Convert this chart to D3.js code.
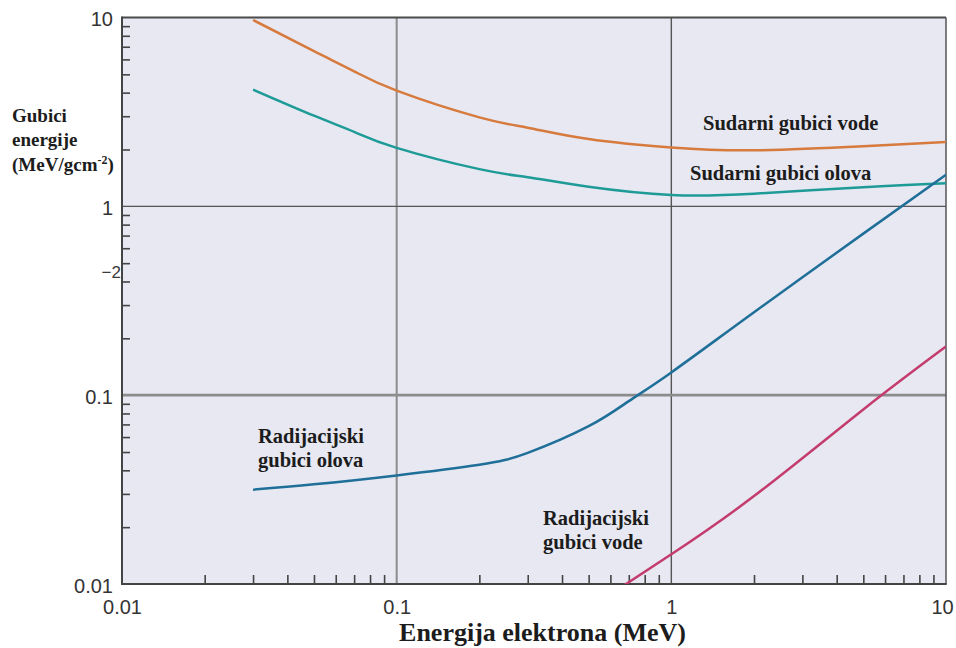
<!DOCTYPE html>
<html><head><meta charset="utf-8">
<script src="https://cdn.jsdelivr.net/npm/d3@7"></script>
<style>body{margin:0;background:#fff}svg{display:block}</style>
</head><body>
<svg id="c" width="956" height="648"></svg>
<script>
// ---- data ----
const energyCollision = [0.03, 0.05, 0.07, 0.1, 0.2, 0.3, 0.5, 1, 2, 5, 10];
const collisionWater  = [9.7, 6.63, 5.19, 4.1, 2.96, 2.61, 2.27, 2.05, 1.98, 2.08, 2.19];
const collisionLead   = [4.15, 3.02, 2.48, 2.04, 1.574, 1.427, 1.27, 1.149, 1.167, 1.263, 1.327];
const energyRadLead   = [0.03, 0.05, 0.1, 0.2, 0.3, 0.5, 0.7, 1, 2, 5, 10];
const radiativeLead   = [0.0316, 0.0337, 0.0376, 0.0428, 0.0495, 0.0685, 0.093, 0.132, 0.275, 0.717, 1.47];
const energyRadWater  = [0.67, 1, 2, 5, 10];
const radiativeWater  = [0.0098, 0.01436, 0.0292, 0.084, 0.181];
const majorTicks = [0.01, 0.1, 1, 10];
const majorLabels = ["0.01", "0.1", "1", "10"];
const xTitle = "Energija elektrona (MeV)";
const yTitle = ["Gubici", "energije"];
const seriesLabels = [
  {lines: ["Sudarni gubici vode"]},
  {lines: ["Sudarni gubici olova"]},
  {lines: ["Radijacijski", "gubici olova"]},
  {lines: ["Radijacijski", "gubici vode"]}
];

// ---- layout ----
const L = 122, R = 946, T = 17.5, B = 584;
const svg = d3.select("#c");
const x = d3.scaleLog().domain([0.01, 10]).range([L, R]);
const y = d3.scaleLog().domain([0.01, 10]).range([B, T]);

svg.append("rect").attr("x", L).attr("y", T).attr("width", R - L).attr("height", B - T)
  .attr("fill", "#e7e8f2");

// minor ticks
const minors = [];
[0.01, 0.1, 1].forEach(d => { for (let k = 2; k <= 9; k++) minors.push(d * k); });

// grid lines
const gx = [{v: 0.1, c: "#8c8c8c", w: 2}, {v: 1, c: "#555", w: 1.4}];
const gy = [{v: 1, c: "#555", w: 1.4}, {v: 0.1, c: "#8c8c8c", w: 2.6}];
svg.selectAll(".gx").data(gx).join("line")
  .attr("x1", d => x(d.v)).attr("x2", d => x(d.v)).attr("y1", T).attr("y2", B)
  .attr("stroke", d => d.c).attr("stroke-width", d => d.w);
svg.selectAll(".gy").data(gy).join("line")
  .attr("y1", d => y(d.v)).attr("y2", d => y(d.v)).attr("x1", L).attr("x2", R)
  .attr("stroke", d => d.c).attr("stroke-width", d => d.w);

// minor tick axes (inward)
svg.append("g").attr("transform", `translate(${L},0)`)
  .call(d3.axisLeft(y).tickValues(minors).tickSize(-8).tickFormat(""))
  .call(g => g.select(".domain").remove())
  .call(g => g.selectAll("line").attr("stroke", "#444").attr("stroke-width", 1.6));
svg.append("g").attr("transform", `translate(0,${B})`)
  .call(d3.axisBottom(x).tickValues(minors).tickSize(-9).tickFormat(""))
  .call(g => g.select(".domain").remove())
  .call(g => g.selectAll("line").attr("stroke", "#444").attr("stroke-width", 1.6));

// major labels
const fmt = d => majorLabels[majorTicks.indexOf(d)];
svg.append("g").attr("transform", `translate(${L},0)`)
  .call(d3.axisLeft(y).tickValues(majorTicks).tickSize(0).tickPadding(9).tickFormat(fmt))
  .call(g => g.select(".domain").remove())
  .call(g => g.selectAll("text").attr("font-family", "Liberation Sans, Arial, sans-serif")
      .attr("font-size", 20).attr("fill", "#333").attr("dy", "0.42em"));
svg.append("g").attr("transform", `translate(0,${B})`)
  .call(d3.axisBottom(x).tickValues(majorTicks).tickSize(0).tickPadding(15.5).tickFormat(fmt))
  .call(g => g.select(".domain").remove())
  .call(g => g.selectAll("text").attr("font-family", "Liberation Sans, Arial, sans-serif")
      .attr("font-size", 20).attr("fill", "#333")
      .attr("dx", d => d === 10 ? -4 : 0));

// frame
svg.append("line").attr("x1", L).attr("x2", R).attr("y1", T).attr("y2", T).attr("stroke", "#4a4a4a").attr("stroke-width", 2);
svg.append("line").attr("x1", R).attr("x2", R).attr("y1", T).attr("y2", B).attr("stroke", "#555").attr("stroke-width", 1.5);
svg.append("line").attr("x1", L).attr("x2", L).attr("y1", T - 1).attr("y2", B + 1).attr("stroke", "#444").attr("stroke-width", 2);
svg.append("line").attr("x1", L - 1).attr("x2", R + 0.75).attr("y1", B).attr("y2", B).attr("stroke", "#444").attr("stroke-width", 2);

// curves
const line = d3.line().x(d => x(d[0])).y(d => y(d[1])).curve(d3.curveNatural);
const series = [
  {e: energyCollision, v: collisionWater, c: "#d77a3d"},
  {e: energyCollision, v: collisionLead, c: "#1f9b97"},
  {e: energyRadLead, v: radiativeLead, c: "#1f6f99"},
  {e: energyRadWater, v: radiativeWater, c: "#c43c6e"}
];
svg.append("defs").append("clipPath").attr("id", "clip")
  .append("rect").attr("x", L).attr("y", T).attr("width", R - L).attr("height", B - T);
svg.append("g").attr("clip-path", "url(#clip)").selectAll("path").data(series).join("path")
  .attr("d", s => line(s.e.map((e, i) => [e, s.v[i]])))
  .attr("fill", "none").attr("stroke", s => s.c).attr("stroke-width", 2.5);

// annotations
const serif = "Liberation Serif, Times New Roman, serif";
const annPos = [[703, 130], [690, 180], [258, 443], [543, 525]];
seriesLabels.forEach((s, i) => {
  const t = svg.append("text").attr("x", annPos[i][0]).attr("y", annPos[i][1])
    .attr("font-family", serif).attr("font-weight", "bold").attr("font-size", 20.5).attr("fill", "#1c1c1c");
  s.lines.forEach((ln, j) => t.append("tspan").attr("x", annPos[i][0]).attr("dy", j ? 24 : 0).text(ln));
});

// axis titles
svg.append("text").attr("x", 542.5).attr("y", 641).attr("text-anchor", "middle")
  .attr("font-family", serif).attr("font-weight", "bold").attr("font-size", 26).attr("fill", "#1c1c1c")
  .text(xTitle);
const yt = svg.append("text").attr("font-family", serif).attr("font-weight", "bold")
  .attr("font-size", 19).attr("fill", "#1c1c1c");
yt.append("tspan").attr("x", 12).attr("y", 121.5).text(yTitle[0]);
yt.append("tspan").attr("x", 12).attr("y", 145.5).text(yTitle[1]);
const yt3 = svg.append("text").attr("x", 12).attr("y", 170.5).attr("font-family", serif)
  .attr("font-weight", "bold").attr("font-size", 19).attr("fill", "#1c1c1c");
yt3.append("tspan").text("(MeV/gcm");
yt3.append("tspan").attr("font-size", 12).attr("dy", -7).text("-2");
yt3.append("tspan").attr("dy", 7).text(")");

// stray label on the axis in the reference
svg.append("text").attr("x", 121).attr("y", 277.5).attr("text-anchor", "end")
  .attr("font-family", "Liberation Sans, Arial, sans-serif").attr("font-size", 17).attr("fill", "#3a3a3a")
  .text("−2");
</script>
</body></html>
